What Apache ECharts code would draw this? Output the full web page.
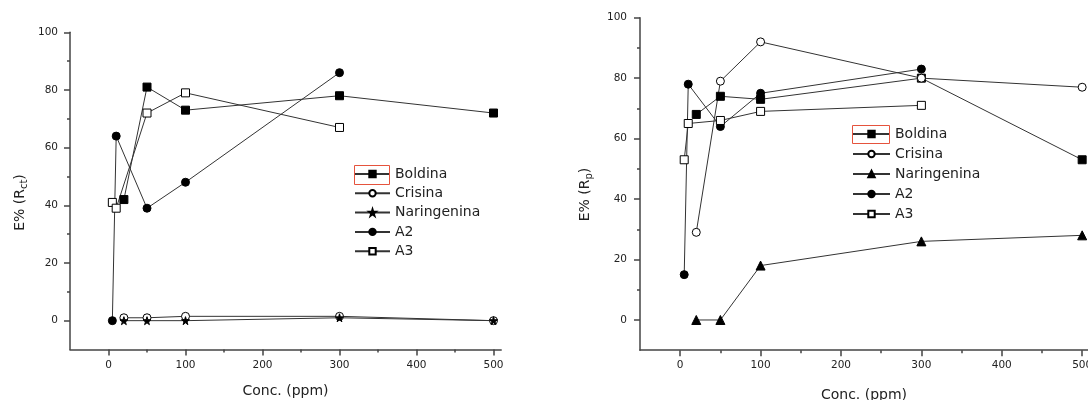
<!DOCTYPE html>
<html><head><meta charset="utf-8">
<script src="https://cdn.jsdelivr.net/npm/echarts@6/dist/echarts.min.js"></script>
<style>
html,body{margin:0;padding:0;background:#fff;}
#l,#r{position:absolute;top:0;width:544px;height:400px;}
#l{left:0;} #r{left:544px;}
</style>
</head><body>
<div id="l"></div><div id="r"></div>
<script>
// ---- data ----
const seriesNames = ['Boldina', 'Crisina', 'Naringenina', 'A2', 'A3'];
const concMain = [20, 50, 100, 300, 500];
const concLow = [5, 10, 50, 100, 300];

// Left panel: E% (Rct)
const rctBoldina = [42, 81, 73, 78, 72];
const rctCrisina = [1, 1, 1.5, 1.5, 0];
const rctNaringenina = [0, 0, 0, 1, 0];
const rctA2 = [0, 64, 39, 48, 86];
const rctA3 = [41, 39, 72, 79, 67];

// Right panel: E% (Rp)
const rpBoldina = [68, 74, 73, 80, 53];
const rpCrisina = [29, 79, 92, 80, 77];
const rpNaringenina = [0, 0, 18, 26, 28];
const rpA2 = [15, 78, 64, 75, 83];
const rpA3 = [53, 65, 66, 69, 71];

const xTickLabels = [0, 100, 200, 300, 400, 500];
const xMinorTicks = [50, 150, 250, 350, 450];
const yTickLabels = [0, 20, 40, 60, 80, 100];
const yMinorTicks = [10, 30, 50, 70, 90];

// ---- helpers ----
const FONT = 'DejaVu Sans';
const AX = '#444';
const STAR = 'path://M50,0 L61,35 L98,35 L68,57 L79,91 L50,70 L21,91 L32,57 L2,35 L39,35 Z';
function pairs(xs, ys) { return xs.map((x, i) => [x, ys[i]]); }

function mkSeries(name, xs, ys, symbol, open, size) {
  return {
    name, type: 'line', xAxisIndex: 0, yAxisIndex: 0,
    data: pairs(xs, ys), symbol, symbolSize: size, showAllSymbol: true,
    itemStyle: { color: open ? '#fff' : '#000', borderColor: '#000', borderWidth: 1 },
    lineStyle: { color: '#333', width: 1 },
    emphasis: { disabled: true }, z: 2
  };
}

function buildOption(p) {
  const tickStyle = { color: AX, width: 1.5 };
  const labelStyle = { fontFamily: FONT, fontSize: 10.5, color: '#222' };
  return {
    animation: false,
    grid: { left: p.left, top: p.top, width: p.width, height: p.height, containLabel: false, outerBoundsMode: 'none' },
    xAxis: [
      { type: 'value', min: -50, max: 510, position: 'bottom',
        axisLine: { show: true, onZero: false, lineStyle: { color: AX, width: 1.5 } },
        splitLine: { show: false },
        axisTick: { show: true, length: 6, customValues: xTickLabels, lineStyle: tickStyle },
        axisLabel: Object.assign({ show: true, customValues: xTickLabels, margin: 10 }, labelStyle) },
      { type: 'value', min: -50, max: 510, position: 'bottom',
        axisLine: { show: false, onZero: false }, splitLine: { show: false },
        axisTick: { show: true, length: 3, customValues: xMinorTicks, lineStyle: tickStyle },
        axisLabel: { show: false } }
    ],
    yAxis: [
      { type: 'value', min: -10, max: 100, position: 'left',
        axisLine: { show: true, onZero: false, lineStyle: { color: AX, width: 1.5 } },
        splitLine: { show: false },
        axisTick: { show: true, length: 6, customValues: yTickLabels, lineStyle: tickStyle },
        axisLabel: Object.assign({ show: true, customValues: yTickLabels, margin: p.ylabelMargin }, labelStyle) },
      { type: 'value', min: -10, max: 100, position: 'left',
        axisLine: { show: false, onZero: false }, splitLine: { show: false },
        axisTick: { show: true, length: 3, customValues: yMinorTicks, lineStyle: tickStyle },
        axisLabel: { show: false } }
    ],
    legend: {
      orient: 'vertical', left: p.legendLeft, top: p.legendTop, padding: 0,
      itemWidth: p.legendItemWidth, itemHeight: 8, itemGap: p.legendGap,
      selectedMode: false, data: seriesNames,
      textStyle: { fontFamily: FONT, fontSize: 14, color: '#222', lineHeight: 14 }
    },
    graphic: [
      { type: 'text', x: p.yTitleX, y: p.yTitleY, rotation: Math.PI / 2,
        style: { text: '{a|E% (R}{s|' + p.sub + '}{a|)}', align: 'center', verticalAlign: 'middle',
          rich: { a: { fontFamily: FONT, fontSize: 14, fill: '#222', lineHeight: 18 },
                  s: { fontFamily: FONT, fontSize: 10, fill: '#222', lineHeight: 9, verticalAlign: 'bottom' } } } },
      { type: 'text', x: p.xTitleX, y: p.xTitleY,
        style: { text: 'Conc. (ppm)', fontFamily: FONT, fontSize: 14, fill: '#222', align: 'center', verticalAlign: 'middle' } },
      { type: 'rect', shape: { x: p.boxX, y: p.boxY, width: p.boxW, height: p.boxH },
        style: { fill: 'none', stroke: '#e5533d', lineWidth: 1 }, z: 100 }
    ],
    series: p.series
  };
}

const left = echarts.init(document.getElementById('l'), null, { renderer: 'canvas' });
left.setOption(buildOption({
  left: 70, top: 32.3, width: 431.2, height: 317.2, ylabelMargin: 12,
  legendLeft: 354, legendTop: 167, legendItemWidth: 35, legendGap: 5.3,
  yTitleX: 20, yTitleY: 202.5, sub: 'ct', xTitleX: 285.5, xTitleY: 391,
  boxX: 354.5, boxY: 165.5, boxW: 35, boxH: 19,
  series: [
    mkSeries('Boldina', concMain, rctBoldina, 'rect', false, 8),
    mkSeries('Crisina', concMain, rctCrisina, 'circle', true, 8),
    mkSeries('Naringenina', concMain, rctNaringenina, STAR, false, 8),
    mkSeries('A2', concLow, rctA2, 'circle', false, 8),
    mkSeries('A3', concLow, rctA3, 'rect', true, 8)
  ]
}));

const right = echarts.init(document.getElementById('r'), null, { renderer: 'canvas' });
right.setOption(buildOption({
  left: 96, top: 17.7, width: 450.2, height: 332.5, ylabelMargin: 13,
  legendLeft: 308, legendTop: 127, legendItemWidth: 37, legendGap: 6,
  yTitleX: 41, yTitleY: 194.5, sub: 'p', xTitleX: 320, xTitleY: 395,
  boxX: 308.5, boxY: 125.5, boxW: 37, boxH: 18,
  series: [
    mkSeries('Boldina', concMain, rpBoldina, 'rect', false, 8),
    mkSeries('Crisina', concMain, rpCrisina, 'circle', true, 8),
    mkSeries('Naringenina', concMain, rpNaringenina, 'triangle', false, 9),
    mkSeries('A2', concLow, rpA2, 'circle', false, 8),
    mkSeries('A3', concLow, rpA3, 'rect', true, 8)
  ]
}));
</script>
</body></html>
